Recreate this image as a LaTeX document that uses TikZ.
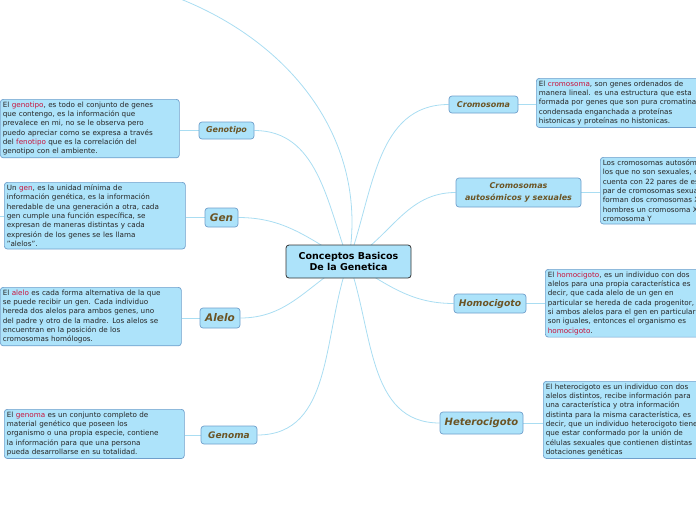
\documentclass[tikz,border=0pt]{standalone}
\usepackage{fontspec}
\setmainfont{DejaVu Sans}
\usetikzlibrary{backgrounds}
\definecolor{boxfill}{HTML}{ADE3FA}
\definecolor{boxline}{HTML}{6F9FCB}
\definecolor{topictxt}{HTML}{6B5424}
\definecolor{key}{HTML}{C8143C}
\definecolor{conn}{HTML}{A9DDF2}
\newcommand{\kw}[1]{\textcolor{key}{#1}}
\tikzset{
  txtbox/.style={draw=boxline, fill=boxfill, rounded corners=3pt, line width=0.7pt, anchor=north west,
    align=left, inner sep=2.5pt, font=\fontsize{7.2}{9.3}\selectfont, text=black!85},
  topic/.style={draw=boxline, fill=boxfill, rounded corners=3pt, line width=0.7pt, inner sep=2pt,
    text=topictxt, font=\bfseries\itshape, align=center},
  conn/.style={draw=conn, line width=0.8pt},
}
\begin{document}
\begin{tikzpicture}[x=1pt,y=-1pt]
\useasboundingbox (0,0) rectangle (696,520);
\clip (0,0) rectangle (696,520);
% center
\node[draw=black!80, fill=boxfill, rounded corners=3pt, line width=0.8pt, minimum width=125pt, minimum height=33pt,
  font=\bfseries\fontsize{9.5}{11.5}\selectfont, align=center] (c) at (348.5,261.5) {Conceptos Basicos\\De la Genetica};
% left topics
\node[topic, minimum width=55pt, minimum height=17pt, font=\bfseries\itshape\fontsize{8}{9}\selectfont] (t1) at (226.5,130.5) {Genotipo};
\node[topic, minimum width=33pt, minimum height=19pt, font=\bfseries\itshape\fontsize{10.5}{12}\selectfont] (t2) at (221.5,217.5) {Gen};
\node[topic, minimum width=40pt, minimum height=20pt, font=\bfseries\itshape\fontsize{10.5}{12}\selectfont] (t3) at (220,318) {Alelo};
\node[topic, minimum width=56pt, minimum height=18pt, font=\bfseries\itshape\fontsize{9}{10}\selectfont] (t4) at (229,435) {Genoma};
% right topics
\node[topic, minimum width=69pt, minimum height=17pt, font=\bfseries\itshape\fontsize{8}{9}\selectfont] (r1) at (483.5,104.5) {Cromosoma};
\node[topic, minimum width=125pt, minimum height=29pt, font=\bfseries\itshape\fontsize{8}{11.5}\selectfont] (r2) at (518.5,192.5) {Cromosomas\\autosómicos y sexuales};
\node[topic, minimum width=72pt, minimum height=19pt, font=\bfseries\itshape\fontsize{9.2}{10}\selectfont] (r3) at (490,303.5) {Homocigoto};
\node[topic, minimum width=83pt, minimum height=22pt, font=\bfseries\itshape\fontsize{10}{11}\selectfont] (r4) at (481.5,423) {Heterocigoto};
% left text boxes
\node[txtbox, text width=174pt] (b1) at (0,99) {El \kw{genotipo}, es todo el conjunto de genes\\que contengo, es la información que\\prevalece en mi, no se le observa pero\\puedo apreciar como se expresa a través\\del \kw{fenotipo} que es la correlación del\\genotipo con el ambiente.};
\node[txtbox, text width=176pt] (b2) at (4,182) {Un \kw{gen}, es la unidad mínima de\\información genética, es la información\\heredable de una generación a otra, cada\\gen cumple una función específica, se\\expresan de maneras distintas y cada\\expresión de los genes se les llama\\"alelos".};
\node[txtbox, text width=176pt] (b3) at (0,287) {El \kw{alelo} es cada forma alternativa de la que\\se puede recibir un gen. Cada individuo\\hereda dos alelos para ambos genes, uno\\del padre y otro de la madre. Los alelos se\\encuentran en la posición de los\\cromosomas homólogos.};
\node[txtbox, text width=175pt] (b4) at (4,409) {El \kw{genoma} es un conjunto completo de\\material genético que poseen los\\organismo o una propia especie, contiene\\la información para que una persona\\pueda desarrollarse en su totalidad.};
% right text boxes
\node[txtbox, text width=200pt] (d1) at (536,78) {El \kw{cromosoma}, son genes ordenados de\\manera lineal. es una estructura que esta\\formada por genes que son pura cromatina\\condensada enganchada a proteínas\\histonicas y proteínas no histonicas.};
\node[txtbox, text width=200pt] (d2) at (600,157) {Los cromosomas autosómicos son\\los que no son sexuales, el humano\\cuenta con 22 pares de estos y un\\par de cromosomas sexuales que\\forman dos cromosomas X y en los\\hombres un cromosoma X y un\\cromosoma Y};
\node[txtbox, text width=200pt] (d3) at (545,269) {El \kw{homocigoto}, es un individuo con dos\\alelos para una propia característica es\\decir, que cada alelo de un gen en\\particular se hereda de cada progenitor,\\si ambos alelos para el gen en particular\\son iguales, entonces el organismo es\\\kw{homocigoto}.};
\node[txtbox, text width=200pt] (d4) at (543,381) {El heterocigoto es un individuo con dos\\alelos distintos, recibe información para\\una característica y otra información\\distinta para la misma característica, es\\decir, que un individuo heterocigoto tiene\\que estar conformado por la unión de\\células sexuales que contienen distintas\\dotaciones genéticas};
\coordinate (top) at (170,-5);
\coordinate (nub) at (-2,216);
\begin{scope}[on background layer]
\draw[conn] (c.center) to[out=110,in=0] (t1.east);
\draw[conn] (c.center) to[out=150,in=0] (t2.east);
\draw[conn] (c.center) to[out=210,in=0] (t3.east);
\draw[conn] (c.center) to[out=250,in=0] (t4.east);
\draw[conn] (c.center) to[out=80,in=-20] (top);
\draw[conn] (c.center) to[out=70,in=180] (r1.west);
\draw[conn] (c.center) to[out=30,in=180] (r2.west);
\draw[conn] (c.center) to[out=-30,in=180] (r3.west);
\draw[conn] (c.center) to[out=-70,in=180] (r4.west);
\draw[conn] (t1.west) -- (b1.east|-t1.west);
\draw[conn] (t2.west) -- (b2.east|-t2.west);
\draw[conn] (t3.west) -- (b3.east|-t3.west);
\draw[conn] (t4.west) -- (b4.east|-t4.west);
\draw[conn] (r1.east) -- (d1.west|-r1.east);
\draw[conn] (r2.east) -- (d2.west|-r2.east);
\draw[conn] (r3.east) -- (d3.west|-r3.east);
\draw[conn] (r4.east) -- (d4.west|-r4.east);
\draw[conn] (b2.west|-nub) -- (nub);
\end{scope}
\end{tikzpicture}
\end{document}
